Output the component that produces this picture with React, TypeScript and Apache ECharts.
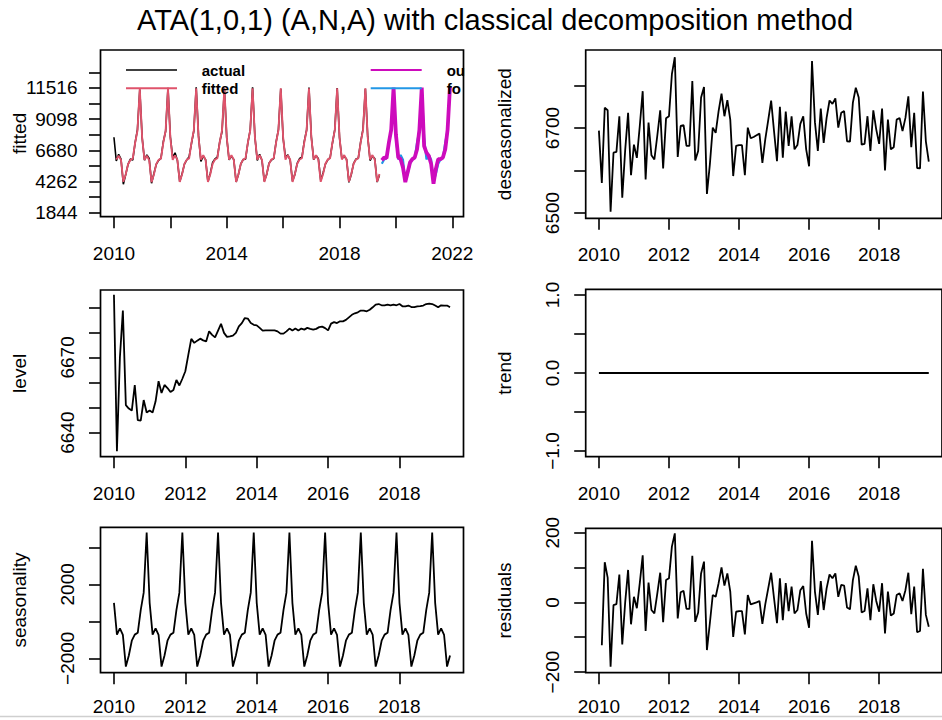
import React, { useEffect, useRef } from "react";
import * as echarts from "echarts";

const FONT = '"Liberation Sans", Arial, Helvetica, sans-serif';
const TITLE = "ATA(1,0,1) (A,N,A) with classical decomposition method";

// monthly series, Jan 2010 .. Jun 2019 (114 months)
const START = 2010;

const actual = [
  7694, 5851, 6368, 6002, 4053, 4792, 5594, 6008, 5916, 7248, 8286, 11389,
  7661, 5910, 6325, 6047, 4129, 4863, 5586, 5906, 6062, 7342, 8155, 11523,
  7728, 6107, 6487, 5892, 4255, 4857, 5608, 5938, 6191, 7224, 8196, 11572,
  7797, 5825, 6234, 5961, 4239, 4890, 5731, 6008, 6146, 7320, 8137, 11458,
  7660, 5940, 6209, 5961, 4226, 4829, 5633, 5967, 5998, 7274, 8269, 11565,
  7692, 5902, 6370, 5890, 4289, 4808, 5678, 5930, 6040, 7310, 8278, 11450,
  7610, 6138, 6334, 5906, 4296, 4815, 5674, 6045, 6137, 7370, 8251, 11536,
  7740, 5949, 6288, 6020, 4345, 4922, 5611, 5943, 6108, 7246, 8292, 11497,
  7663, 6026, 6220, 5980, 4200, 4805, 5670, 6004, 6073, 7324, 8325, 11455,
  7736, 5886, 6225, 6046, 4219, 4771,
];

const fitted = [
  null, 5975, 6253, 5930, 4239, 4801, 5600, 5929, 6039, 7245, 8195, 11453,
  7648, 5929, 6268, 5913, 4211, 4806, 5609, 5938, 6036, 7257, 8211, 11459,
  7662, 5945, 6291, 5937, 4226, 4827, 5628, 5957, 6056, 7280, 8229, 11478,
  7681, 5963, 6300, 5938, 4228, 4829, 5630, 5962, 6064, 7286, 8236, 11484,
  7683, 5963, 6302, 5941, 4231, 4831, 5631, 5961, 6060, 7280, 8230, 11480,
  7682, 5961, 6302, 5941, 4232, 4831, 5632, 5961, 6061, 7281, 8232, 11482,
  7682, 5961, 6304, 5944, 4234, 4834, 5634, 5965, 6066, 7287, 8238, 11488,
  7689, 5969, 6308, 5949, 4240, 4841, 5641, 5971, 6071, 7291, 8241, 11491,
  7691, 5971, 6310, 5950, 4241, 4840, 5640, 5970, 6071, 7291, 8241, 11492,
  7691, 5971, 6310, 5951, 4241, 4841,
];

// Jul 2019 .. Dec 2021
const OUT_START = 2019.5;
const outSample = [
  5917, 6120, 6069, 7265, 8283, 11541, 7900, 6120, 5993, 5357, 4211, 4975,
  5738, 5993, 6120, 6756, 8283, 11541, 7011, 6502, 6247, 5611, 4084, 5229,
  5993, 5993, 6120, 6756, 8283, 11600,
];
const forecast = [
  5640, 5970, 6070, 7290, 8240, 11490, 7690, 5970, 6310, 5950, 4240, 4840,
  5640, 5970, 6070, 7290, 8240, 11490, 7690, 5970, 6310, 5950, 4240, 4840,
  5640, 5970, 6070, 7290, 8240, 11490,
];

const deseasonalized = [
  6694, 6571, 6748, 6742, 6503, 6642, 6644, 6728, 6536, 6648,
  6736, 6589, 6661, 6630, 6705, 6787, 6579, 6713, 6636, 6626,
  6682, 6742, 6605, 6723, 6728, 6827, 6867, 6632, 6705, 6707,
  6658, 6658, 6811, 6624, 6646, 6772, 6797, 6545, 6614, 6701,
  6689, 6740, 6781, 6728, 6766, 6720, 6587, 6658, 6660, 6660,
  6589, 6701, 6676, 6679, 6683, 6687, 6618, 6674, 6719, 6765,
  6692, 6622, 6750, 6630, 6739, 6658, 6728, 6650, 6660, 6710,
  6728, 6650, 6610, 6858, 6714, 6646, 6746, 6665, 6724, 6765,
  6757, 6770, 6701, 6736, 6740, 6669, 6668, 6760, 6795, 6772,
  6661, 6663, 6728, 6646, 6742, 6697, 6663, 6746, 6600, 6720,
  6650, 6655, 6720, 6724, 6693, 6724, 6775, 6655, 6736, 6606,
  6605, 6786, 6669, 6621,
];

const level = [
  6695, 6632.6, 6670, 6688.7, 6651, 6649.6, 6648.8, 6659, 6645, 6644.8,
  6653, 6648, 6648.8, 6648, 6652.5, 6660.5, 6655.8, 6659, 6657.8, 6656.2,
  6657, 6661, 6658.8, 6661.5, 6664.5, 6671, 6677.4, 6675.8, 6676.7, 6677.5,
  6676.8, 6676.4, 6680.4, 6679, 6678, 6680.7, 6683.4, 6679.8, 6678.2, 6678.4,
  6678.7, 6679.8, 6682.4, 6683.7, 6685.7, 6685.5, 6683.7, 6683, 6682.8, 6681.8,
  6680.7, 6680.8, 6680.8, 6680.8, 6680.8, 6680.4, 6679.5, 6679.5, 6680.4, 6681.5,
  6680.7, 6681.5, 6680.7, 6681.5, 6681.1, 6681.8, 6681.4, 6681.1, 6681.4, 6682.1,
  6682.3, 6681.7, 6680.8, 6683.5, 6684.1, 6683.7, 6684.4, 6684.4, 6685, 6686,
  6687, 6687.6, 6688, 6688.7, 6688.7, 6688.4, 6689, 6690, 6691.1, 6691.3,
  6690.8, 6690.8, 6691.1, 6690.8, 6691.1, 6690.8, 6691.3, 6690.4, 6690.4, 6690.7,
  6690.1, 6690.1, 6690.4, 6690.5, 6690.7, 6691.3, 6691.5, 6691.3, 6690.7, 6690,
  6690.8, 6690.7, 6690.7, 6690,
];

const trend = [
  0, 0, 0, 0, 0, 0, 0, 0, 0, 0, 0, 0,
  0, 0, 0, 0, 0, 0, 0, 0, 0, 0, 0, 0,
  0, 0, 0, 0, 0, 0, 0, 0, 0, 0, 0, 0,
  0, 0, 0, 0, 0, 0, 0, 0, 0, 0, 0, 0,
  0, 0, 0, 0, 0, 0, 0, 0, 0, 0, 0, 0,
  0, 0, 0, 0, 0, 0, 0, 0, 0, 0, 0, 0,
  0, 0, 0, 0, 0, 0, 0, 0, 0, 0, 0, 0,
  0, 0, 0, 0, 0, 0, 0, 0, 0, 0, 0, 0,
  0, 0, 0, 0, 0, 0, 0, 0, 0, 0, 0, 0,
  0, 0, 0, 0, 0, 0,
];

const seasonality = [
  1000, -720, -380, -740, -2450, -1850, -1050, -720, -620, 600, 1550, 4800,
  1000, -720, -380, -740, -2450, -1850, -1050, -720, -620, 600, 1550, 4800,
  1000, -720, -380, -740, -2450, -1850, -1050, -720, -620, 600, 1550, 4800,
  1000, -720, -380, -740, -2450, -1850, -1050, -720, -620, 600, 1550, 4800,
  1000, -720, -380, -740, -2450, -1850, -1050, -720, -620, 600, 1550, 4800,
  1000, -720, -380, -740, -2450, -1850, -1050, -720, -620, 600, 1550, 4800,
  1000, -720, -380, -740, -2450, -1850, -1050, -720, -620, 600, 1550, 4800,
  1000, -720, -380, -740, -2450, -1850, -1050, -720, -620, 600, 1550, 4800,
  1000, -720, -380, -740, -2450, -1850, -1050, -720, -620, 600, 1550, 4800,
  1000, -720, -380, -740, -2450, -1850,
];

const residuals = [
  null, -123, 115, 71, -185, -8, -5, 80, -121, 0,
  93, -63, 16, -17, 55, 135, -82, 57, -22, -32,
  25, 85, -57, 64, 69, 160, 198, -46, 29, 33,
  -19, -19, 134, -56, -29, 83, 117, -137, -60, 21,
  16, 55, 100, 48, 83, 31, -99, -27, -25, -25,
  -92, 21, -6, -3, 0, 4, -62, -5, 40, 85,
  11, -60, 69, -51, 55, -25, 45, -32, -22, 35,
  47, -32, -73, 177, 31, -36, 61, -22, 40, 80,
  69, 83, 16, 50, 48, -15, -20, 64, 105, 74,
  -29, -25, 40, -51, 52, 4, -27, 55, -89, 31,
  -38, -32, 21, 26, 4, 35, 85, -34, 45, -86,
  -82, 96, -36, -70,
];

// axis ticks / labels
const fitXTicks = [2010, 2012, 2014, 2016, 2018, 2020, 2022];
const fitXLabels = [2010, 2014, 2018, 2022];
const fitYTicks = [1844, 3053, 4262, 5471, 6680, 7889, 9098, 10307, 11516, 12725];
const fitYLabels = [1844, 4262, 6680, 9098, 11516];
const yearTicks = [2010, 2012, 2014, 2016, 2018];
const desTicks = [6500, 6600, 6700, 6800];
const desLabels = [6500, 6700];
const levTicks = [6640, 6650, 6660, 6670, 6680, 6690];
const levLabels = [6640, 6670];
const trendTicks = [-1, -0.5, 0, 0.5, 1];
const trendLabels = [-1, 0, 1];
const seaTicks = [-2000, 0, 2000, 4000];
const seaLabels = [-2000, 2000];
const resTicks = [-200, -100, 0, 100, 200];
const resLabels = [-200, 0, 200];

const C_RED = "#DF536B";
const C_MAG = "#CD0BBC";
const C_BLUE = "#2297E6";

const fmt = (digits: number) => (v: number) => {
  const s = Math.abs(v).toFixed(digits);
  return v < 0 ? "\u2212" + s : s;
};

const toPairs = (arr: (number | null)[], start: number) =>
  arr
    .map((v, i) => (v == null ? null : [start + i / 12, v]))
    .filter((p) => p !== null) as number[][];

function xAxis(gridIndex: number, min: number, max: number, ticks: number[], labels: number[], margin = 27) {
  return {
    type: "value",
    gridIndex,
    min,
    max,
    position: "bottom",
    axisLine: { show: false, onZero: false },
    splitLine: { show: false },
    axisTick: {
      show: true,
      inside: false,
      length: 11.5,
      lineStyle: { color: "#000", width: 1.6 },
      customValues: ticks,
    },
    axisLabel: {
      show: true,
      customValues: labels,
      margin,
      color: "#000",
      fontSize: 19,
      fontFamily: FONT,
      formatter: (v: number) => String(Math.round(v)),
    },
  };
}

function yAxis(
  gridIndex: number,
  min: number,
  max: number,
  ticks: number[],
  labels: number[],
  name: string,
  rotate: number,
  digits: number,
  margin: number,
  z = 2
) {
  return {
    type: "value",
    gridIndex,
    min,
    max,
    z,
    position: "left",
    name,
    nameLocation: "middle",
    nameGap: 72,
    nameRotate: 90,
    nameMoveOverlap: false,
    nameTextStyle: { fontSize: 19, color: "#000", fontFamily: FONT },
    axisLine: { show: false, onZero: false },
    splitLine: { show: false },
    axisTick: {
      show: true,
      inside: false,
      length: 11.5,
      lineStyle: { color: "#000", width: 1.6 },
      customValues: ticks,
    },
    axisLabel: {
      show: true,
      customValues: labels,
      rotate,
      margin,
      color: "#000",
      fontSize: 19,
      fontFamily: FONT,
      formatter: fmt(digits),
    },
  };
}

function line(xi: number, data: number[][], color: string, width: number, z = 2) {
  return {
    type: "line",
    xAxisIndex: xi,
    yAxisIndex: xi,
    data,
    symbol: "none",
    showSymbol: false,
    silent: true,
    z,
    lineStyle: { color, width },
  };
}

export default function App() {
  const ref = useRef<HTMLDivElement>(null);

  useEffect(() => {
    if (!ref.current) return;
    const chart = echarts.init(ref.current, undefined, { renderer: "svg" });
    const gridBase = { show: true, borderColor: "#000", borderWidth: 1.7, backgroundColor: "transparent", containLabel: false };
    const option = {
      animation: false,
      backgroundColor: "#fff",
      textStyle: { fontFamily: FONT },
      title: {
        text: TITLE,
        left: 490,
        top: 0,
        textAlign: "center",
        textStyle: { fontSize: 29, fontWeight: "normal", color: "#000", fontFamily: FONT },
      },
      grid: [
        { ...gridBase, left: 100.5, top: 50, width: 363, height: 166.7 },
        { ...gridBase, left: 585.7, top: 50, width: 363, height: 168.3 },
        { ...gridBase, left: 100.5, top: 290, width: 363, height: 166.7 },
        { ...gridBase, left: 585.7, top: 289.3, width: 363, height: 167.4 },
        { ...gridBase, left: 100.5, top: 527.3, width: 363, height: 145.4 },
        { ...gridBase, left: 585.7, top: 528.3, width: 363, height: 144.4 },
      ],
      xAxis: [
        xAxis(0, 2009.523, 2022.397, fitXTicks, fitXLabels),
        xAxis(1, 2009.623, 2019.794, yearTicks, yearTicks),
        xAxis(2, 2009.623, 2019.794, yearTicks, yearTicks),
        xAxis(3, 2009.623, 2019.794, yearTicks, yearTicks),
        xAxis(4, 2009.623, 2019.794, yearTicks, yearTicks, 24),
        xAxis(5, 2009.623, 2019.794, yearTicks, yearTicks, 24),
      ],
      yAxis: [
        yAxis(0, 1534, 14453, fitYTicks, fitYLabels, "fitted", 0, 0, 23),
        yAxis(1, 6487.5, 6884, desTicks, desLabels, "deseasonalized", 90, 0, 24, 10),
        yAxis(2, 6630.4, 6696.9, levTicks, levLabels, "level", 90, 0, 24),
        yAxis(3, -1.073, 1.073, trendTicks, trendLabels, "trend", 90, 1, 24),
        yAxis(4, -2780, 5084, seaTicks, seaLabels, "seasonality", 90, 0, 24),
        yAxis(5, -202, 212.6, resTicks, resLabels, "residuals", 90, 0, 24),
      ],
      series: [
        line(0, toPairs(actual, START), "#000", 1.6),
        line(0, toPairs(fitted, START), C_RED, 1.9, 3),
        line(0, toPairs(forecast, OUT_START), C_BLUE, 2.2, 4),
        line(0, toPairs(outSample, OUT_START), C_MAG, 3.8, 5),
        line(1, toPairs(deseasonalized, START), "#000", 1.8),
        line(2, toPairs(level, START), "#000", 1.8),
        line(3, toPairs(trend, START), "#000", 1.8),
        line(4, toPairs(seasonality, START), "#000", 1.8),
        line(5, toPairs(residuals, START), "#000", 1.8),
      ],
      graphic: [
        { type: "line", z: 20, shape: { x1: 126, y1: 70, x2: 177, y2: 70 }, style: { stroke: "#000", lineWidth: 1.6 } },
        { type: "line", z: 20, shape: { x1: 126, y1: 88.3, x2: 177, y2: 88.3 }, style: { stroke: C_RED, lineWidth: 2 } },
        { type: "line", z: 20, shape: { x1: 370.7, y1: 70, x2: 421.7, y2: 70 }, style: { stroke: C_MAG, lineWidth: 2 } },
        { type: "line", z: 20, shape: { x1: 370.7, y1: 88.3, x2: 421.7, y2: 88.3 }, style: { stroke: C_BLUE, lineWidth: 2 } },
        { type: "text", z: 20, x: 201.7, y: 70, style: { text: "actual", fill: "#000", fontSize: 15, fontWeight: "bold", fontFamily: FONT, verticalAlign: "middle" } },
        { type: "text", z: 20, x: 201.7, y: 88.3, style: { text: "fitted", fill: "#000", fontSize: 15, fontWeight: "bold", fontFamily: FONT, verticalAlign: "middle" } },
        { type: "text", z: 20, x: 446.7, y: 70, style: { text: "out-sample", width: 20, overflow: "truncate", ellipsis: "", fill: "#000", fontSize: 15, fontWeight: "bold", fontFamily: FONT, verticalAlign: "middle" } },
        { type: "text", z: 20, x: 446.7, y: 88.3, style: { text: "forecast", width: 19, overflow: "truncate", ellipsis: "", fill: "#000", fontSize: 15, fontWeight: "bold", fontFamily: FONT, verticalAlign: "middle" } },
        { type: "line", z: 20, shape: { x1: 0, y1: 716.5, x2: 942, y2: 716.5 }, style: { stroke: "#cfcfcf", lineWidth: 1.5 } },
      ],
    };
    chart.setOption(option as any);
    return () => chart.dispose();
  }, []);

  return (
    <div
      ref={ref}
      style={{ position: "fixed", left: 0, top: 0, width: 942, height: 720, background: "#fff" }}
    />
  );
}
